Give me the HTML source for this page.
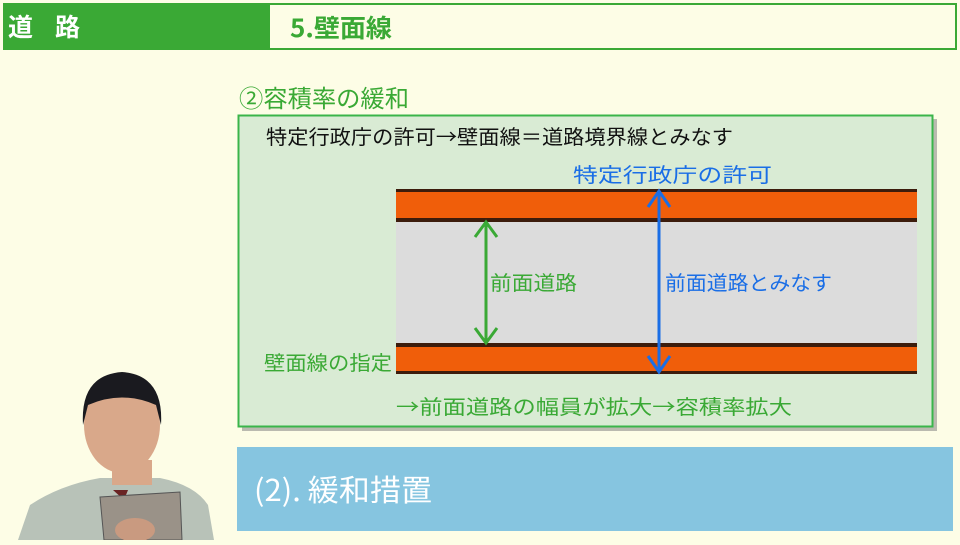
<!DOCTYPE html>
<html><head><meta charset="utf-8"><style>
body{margin:0;width:960px;height:540px;overflow:hidden;background:#fdfde6;}
svg text{font-family:"Noto Sans CJK JP","Liberation Sans",sans-serif;}
</style></head><body>
<svg width="960" height="540" viewBox="0 0 960 540" xmlns="http://www.w3.org/2000/svg">
<rect width="960" height="540" fill="#fdfde6"/>
<rect x="3" y="3" width="954" height="47" fill="#3aa935"/>
<rect x="270" y="5" width="685" height="43" fill="#fdfde6"/>
<text x="8" y="36" font-size="25" fill="#fff" font-weight="bold" textLength="72" lengthAdjust="spacing">道　路</text>
<text x="290" y="37" font-size="25" fill="#3aa935" font-weight="bold" textLength="102" lengthAdjust="spacingAndGlyphs">5.壁面線</text>
<text x="239" y="107" font-size="24" fill="#3aa935" textLength="170" lengthAdjust="spacingAndGlyphs">②容積率の緩和</text>
<rect x="242" y="119" width="695" height="312" fill="#777" opacity="0.5"/>
<rect x="238.5" y="115.5" width="694" height="311" fill="#d9ebd4" stroke="#3ab54a" stroke-width="2"/>
<text x="266" y="144" font-size="20" fill="#111" textLength="467" lengthAdjust="spacingAndGlyphs">特定行政庁の許可→壁面線＝道路境界線とみなす</text>
<text x="573" y="182" font-size="20" fill="#1a6ee6" textLength="199" lengthAdjust="spacingAndGlyphs">特定行政庁の許可</text>
<rect x="396" y="221" width="521" height="122" fill="#dcdcdc"/>
<rect x="396" y="189" width="521" height="33" fill="#f05e0a"/>
<rect x="396" y="189" width="521" height="3" fill="#3c1c0c"/>
<rect x="396" y="218" width="521" height="4" fill="#3c1c0c"/>
<rect x="396" y="343" width="521" height="31" fill="#f05e0a"/>
<rect x="396" y="343" width="521" height="4" fill="#3c1c0c"/>
<rect x="396" y="371" width="521" height="3" fill="#3c1c0c"/>
<g stroke="#3aa935" stroke-width="3" fill="none">
<line x1="486" y1="222" x2="486" y2="343"/>
<polyline points="475,237 486,222 497,237"/>
<polyline points="475,328 486,343 497,328"/>
</g>
<text x="490" y="290" font-size="20" fill="#3aa935" textLength="87" lengthAdjust="spacingAndGlyphs">前面道路</text>
<g stroke="#1a6ee6" stroke-width="3" fill="none">
<line x1="659" y1="191" x2="659" y2="372"/>
<polyline points="648,207 659,191 670,207"/>
<polyline points="648,356 659,372 670,356"/>
</g>
<text x="665" y="290" font-size="20" fill="#1a6ee6" textLength="167" lengthAdjust="spacingAndGlyphs">前面道路とみなす</text>
<text x="264" y="370" font-size="20" fill="#3aa935" textLength="128" lengthAdjust="spacingAndGlyphs">壁面線の指定</text>
<text x="396" y="414" font-size="20" fill="#3aa935" textLength="396" lengthAdjust="spacingAndGlyphs">→前面道路の幅員が拡大→容積率拡大</text>
<rect x="237" y="447" width="716" height="84" fill="#86c5e0"/>
<text x="254" y="501" font-size="30" fill="#fff" textLength="178" lengthAdjust="spacingAndGlyphs">(2). 緩和措置</text>
<path d="M18,540 L30,505 Q60,485 100,478 L160,478 Q195,485 208,505 L214,540 Z" fill="#b8c2b8"/>
<rect x="112" y="460" width="40" height="25" fill="#d9a88a"/>
<ellipse cx="122" cy="425" rx="38" ry="48" fill="#d9a88a"/>
<path d="M83,425 Q80,375 122,372 Q164,375 161,425 L156,405 Q122,390 88,405 Z" fill="#1a1a1f"/>
<polygon points="113,490 128,490 124,500" fill="#6a2424"/>
<polygon points="100,497 180,492 182,540 104,540" fill="#9a9288" stroke="#555" stroke-width="1"/>
<ellipse cx="135" cy="530" rx="20" ry="12" fill="#c99a80"/>
</svg>
</body></html>
